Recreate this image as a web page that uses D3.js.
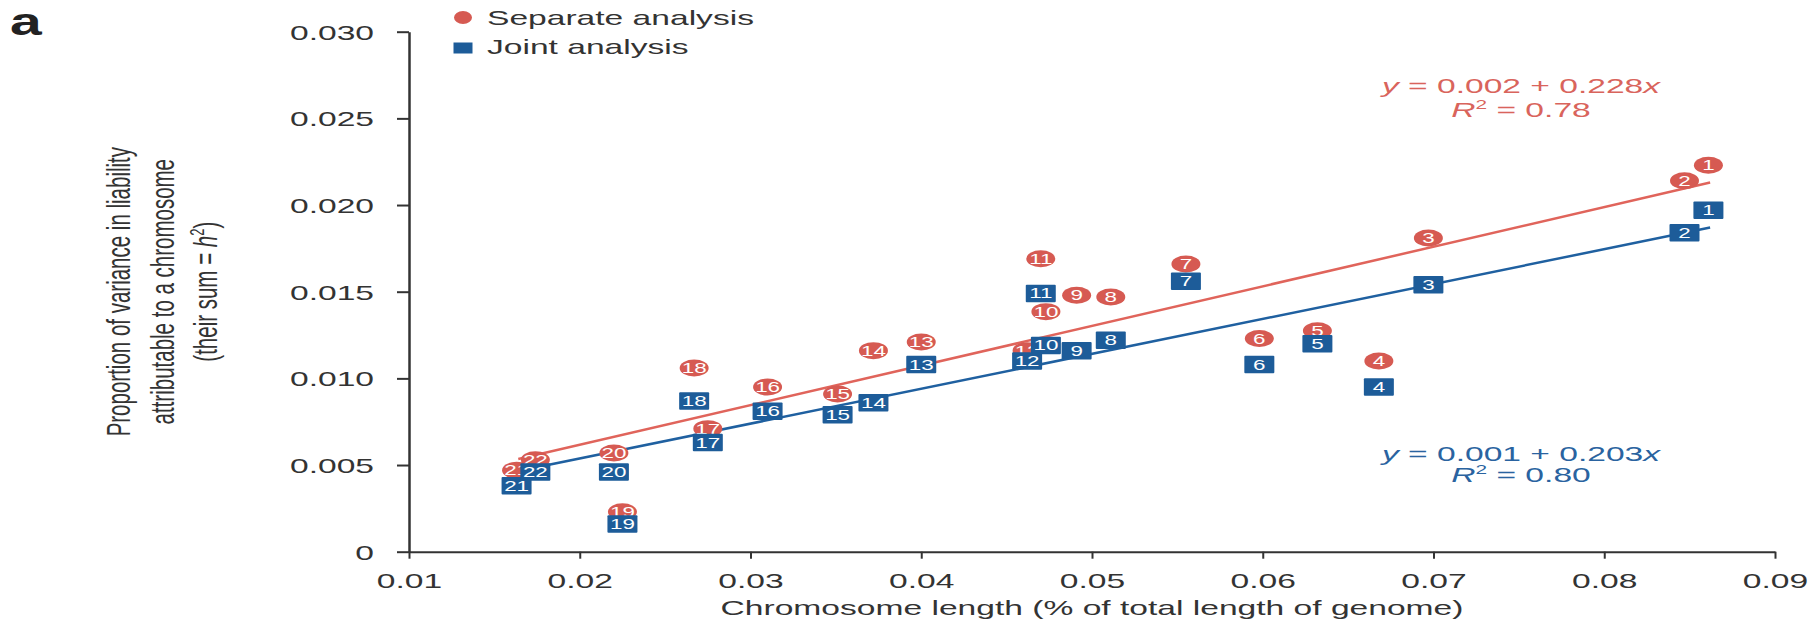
<!DOCTYPE html>
<html lang="en">
<head>
<meta charset="UTF-8" />
<title>Chromosome length vs variance in liability</title>
<script src="https://d3js.org/d3.v7.min.js"></script>
<style>
  body { margin: 0; background: #fff; }
  svg text { font-family: 'Liberation Sans', Arial, Helvetica, sans-serif; }
  .axis path, .axis line { fill: none; stroke: #333; }
  .axis text { font-size: 21px; fill: #333; }
  .mark text { font-size: 14px; fill: #fff; }
</style>
</head>
<body>
<script>
// chromosome number, length (% of genome) and h2 per chromosome
const chromosomes = d3.range(1, 23);
const chrLength = [0.0861, 0.0847, 0.0697, 0.0668, 0.0632, 0.0598, 0.0555, 0.0511, 0.0491, 0.0473, 0.0470,
                   0.0462, 0.0400, 0.0372, 0.0351, 0.0310, 0.0275, 0.0267, 0.0225, 0.0220, 0.0163, 0.0174];
const separateH2 = [0.0223, 0.0214, 0.0181, 0.0110, 0.01275, 0.0123, 0.0166, 0.0147, 0.0148, 0.01385, 0.0169,
                    0.0116, 0.0121, 0.0116, 0.0091, 0.0095, 0.0071, 0.0106, 0.0023, 0.0057, 0.0047, 0.0053];
const jointH2 = [0.0197, 0.0184, 0.0154, 0.0095, 0.0120, 0.0108, 0.0156, 0.0122, 0.0116, 0.0119, 0.0149,
                 0.0110, 0.0108, 0.0086, 0.0079, 0.0081, 0.0063, 0.0087, 0.0016, 0.0046, 0.0038, 0.0046];

const xTicks = [0.01, 0.02, 0.03, 0.04, 0.05, 0.06, 0.07, 0.08, 0.09];
const yTicks = [0, 0.005, 0.010, 0.015, 0.020, 0.025, 0.030];

// regression lines [separate, joint]
const fitIntercept = [0.0016, 0.00135];
const fitSlope = [0.2285, 0.2013];
const fitRange = [0.0164, 0.0862];

const w = 1818, h = 626;
const SX = 1.6; // the figure is stretched horizontally
const red = "#d65a52", blue = "#1d5c99";
const redLine = "#e0645b", blueLine = "#1f60a0";

const x = d3.scaleLinear().domain([0.01, 0.09]).range([409, 1775]);
const y = d3.scaleLinear().domain([0, 0.030]).range([551.7, 31.7]);

const svg = d3.select("body").append("svg")
    .attr("width", w)
    .attr("height", h);

function place(sel, tx, ty, k) {
    return sel.attr("transform", `translate(${tx},${ty}) scale(${k || SX},1)`);
}

// axes
const xAxis = svg.append("g")
    .attr("class", "axis")
    .attr("transform", `translate(0,${y(0)})`)
    .call(d3.axisBottom(x).tickValues(xTicks).tickSize(7).tickSizeOuter(0).tickFormat(d3.format(".2f")));
xAxis.select(".domain").attr("stroke-width", 2);
xAxis.selectAll("line").attr("stroke-width", 2);
xAxis.selectAll("text")
    .attr("y", 36).attr("dy", 0)
    .attr("transform", `scale(${SX},1)`);

const yAxis = svg.append("g")
    .attr("class", "axis")
    .attr("transform", `translate(${x(0.01)},0)`)
    .call(d3.axisLeft(y).tickValues(yTicks).tickSize(12).tickSizeOuter(0)
        .tickFormat(d => d === 0 ? "0" : d3.format(".3f")(d)));
yAxis.select(".domain").attr("stroke-width", 2.5);
yAxis.selectAll("line").attr("stroke-width", 2);
yAxis.selectAll("text")
    .attr("x", -35 / SX).attr("dy", "0.36em")
    .attr("transform", `scale(${SX},1)`);

// axis titles
place(svg.append("text"), (x(0.01) + x(0.09)) / 2, 615)
    .attr("text-anchor", "middle")
    .attr("font-size", 21)
    .attr("fill", "#333")
    .text("Chromosome length (% of total length of genome)");

const yTitle = [
    "Proportion of variance in liability",
    "attributable to a chromosome"
];
const ty = (y(0) + y(0.030)) / 2;
yTitle.forEach((t, i) => {
    svg.append("text")
        .attr("transform", `translate(${130 + i * 43.5},${ty}) scale(${SX},1) rotate(-90)`)
        .attr("text-anchor", "middle")
        .attr("font-size", 20.5)
        .attr("fill", "#333")
        .text(t);
});
const t3 = svg.append("text")
    .attr("transform", `translate(${217},${ty}) scale(${SX},1) rotate(-90)`)
    .attr("text-anchor", "middle")
    .attr("font-size", 20.5)
    .attr("fill", "#333");
t3.append("tspan").text("(their sum = ");
t3.append("tspan").attr("font-style", "italic").text("h");
t3.append("tspan").attr("font-size", 13).attr("dy", -8).text("2");
t3.append("tspan").attr("dy", 8).text(")");

// panel letter
place(svg.append("text"), 10, 34.5, 1.5)
    .attr("font-size", 38)
    .attr("font-weight", "bold")
    .attr("fill", "#222")
    .text("a");

// regression lines
const line = d3.line().x(d => x(d[0])).y(d => y(d[1]));
[redLine, blueLine].forEach((c, i) => {
    svg.append("path")
        .datum(fitRange.map(v => [v, fitIntercept[i] + fitSlope[i] * v]))
        .attr("d", line)
        .attr("fill", "none")
        .attr("stroke", c)
        .attr("stroke-width", 2.5);
});

// separate analysis (circles)
const sep = svg.selectAll("g.sep")
    .data(chromosomes)
    .enter().append("g")
    .attr("class", "mark sep")
    .attr("transform", (d, i) => `translate(${x(chrLength[i])},${y(separateH2[i])})`);
sep.append("ellipse")
    .attr("rx", 14.5).attr("ry", 8.5)
    .attr("fill", red);
sep.append("text")
    .attr("text-anchor", "middle")
    .attr("y", 5)
    .attr("transform", `scale(${SX},1)`)
    .text(d => d);

// joint analysis (squares)
const joint = svg.selectAll("g.joint")
    .data(chromosomes)
    .enter().append("g")
    .attr("class", "mark joint")
    .attr("transform", (d, i) => `translate(${x(chrLength[i])},${y(jointH2[i])})`);
joint.append("rect")
    .attr("x", -15).attr("y", -8.75)
    .attr("width", 30).attr("height", 17.5)
    .attr("rx", 1)
    .attr("fill", blue);
joint.append("text")
    .attr("text-anchor", "middle")
    .attr("y", 5)
    .attr("transform", `scale(${SX},1)`)
    .text(d => d);

// legend
svg.append("ellipse")
    .attr("cx", 463).attr("cy", 17.5)
    .attr("rx", 9).attr("ry", 6.5)
    .attr("fill", red);
svg.append("rect")
    .attr("x", 453.5).attr("y", 42.5)
    .attr("width", 19).attr("height", 11)
    .attr("fill", blue);
place(svg.append("text"), 487, 25).attr("font-size", 21).attr("fill", "#333").text("Separate analysis");
place(svg.append("text"), 487, 54).attr("font-size", 21).attr("fill", "#333").text("Joint analysis");

// equations
function equation(cx, by, gap, color, a, b, r2) {
    const l1 = place(svg.append("text"), cx, by)
        .attr("text-anchor", "middle").attr("font-size", 21).attr("fill", color);
    l1.append("tspan").attr("font-style", "italic").text("y");
    l1.append("tspan").text(` = ${a} + ${b}`);
    l1.append("tspan").attr("font-style", "italic").text("x");
    const l2 = place(svg.append("text"), cx, by + gap)
        .attr("text-anchor", "middle").attr("font-size", 21).attr("fill", color);
    l2.append("tspan").attr("font-style", "italic").text("R");
    l2.append("tspan").attr("font-size", 13).attr("dy", -8).text("2");
    l2.append("tspan").attr("dy", 8).text(` = ${r2}`);
}
equation(1521, 92.5, 24, "#d9645c", "0.002", "0.228", "0.78");
equation(1521, 460.5, 21.5, "#2a63a0", "0.001", "0.203", "0.80");
</script>
</body>
</html>
